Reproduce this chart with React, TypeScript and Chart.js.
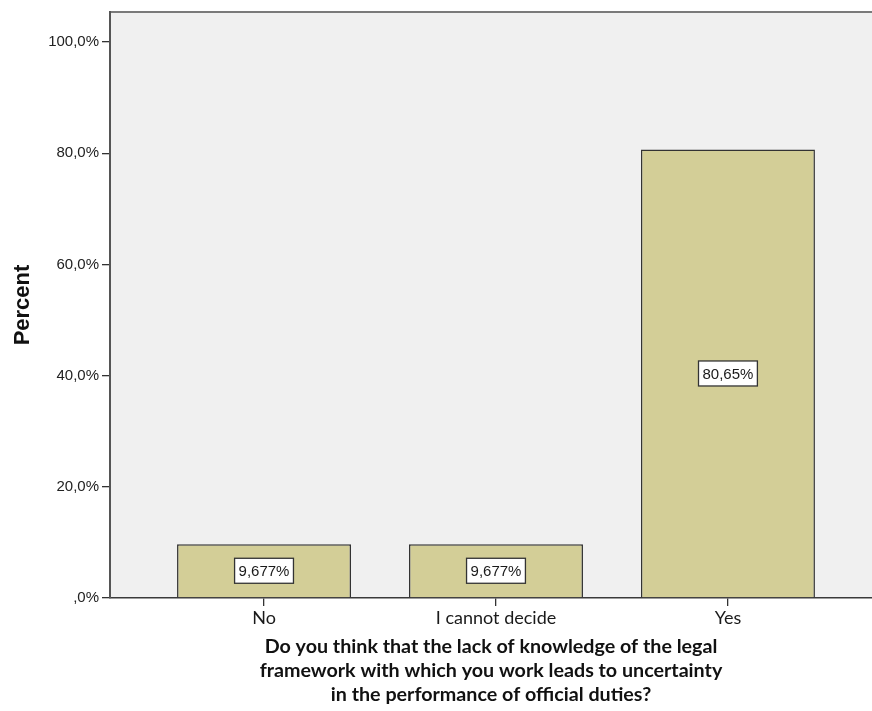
import React, { useEffect, useRef } from 'react';
import { Chart, registerables } from 'chart.js';

Chart.register(...registerables);

const categories = ['No', 'I cannot decide', 'Yes'];
const percentValues = [9.677, 9.677, 80.65];
const valueLabels = ['9,677%', '9,677%', '80,65%'];
const yTickValues = [0, 20, 40, 60, 80, 100];
const yTickLabels = [',0%', '20,0%', '40,0%', '60,0%', '80,0%', '100,0%'];
const yAxisTitle = 'Percent';
const xAxisTitleLines = [
  'Do you think that the lack of knowledge of the legal',
  'framework with which you work leads to uncertainty',
  'in the performance of official duties?',
];

const plotBackground = {
  id: 'plotBackground',
  beforeDraw(chart: any) {
    const { ctx, chartArea } = chart;
    ctx.save();
    ctx.fillStyle = '#f0f0f0';
    ctx.fillRect(chartArea.left, chartArea.top, chart.width - chartArea.left, chartArea.bottom - chartArea.top);
    ctx.strokeStyle = '#7a7a7a';
    ctx.lineWidth = 2;
    ctx.beginPath();
    ctx.moveTo(chartArea.left, chartArea.top);
    ctx.lineTo(chart.width, chartArea.top);
    ctx.stroke();
    ctx.restore();
  },
};

const valueBoxes = {
  id: 'valueBoxes',
  afterDatasetsDraw(chart: any) {
    const { ctx } = chart;
    const meta = chart.getDatasetMeta(0);
    ctx.save();
    ctx.font = '15px "Liberation Sans", Arial, sans-serif';
    ctx.textAlign = 'center';
    ctx.textBaseline = 'middle';
    meta.data.forEach((bar: any, i: number) => {
      const text = valueLabels[i];
      const cx = bar.x;
      const cy = (bar.y + bar.base) / 2;
      const w = ctx.measureText(text).width + 8;
      const h = 25;
      ctx.fillStyle = '#ffffff';
      ctx.fillRect(cx - w / 2, cy - h / 2, w, h);
      ctx.strokeStyle = '#333333';
      ctx.lineWidth = 1.3;
      ctx.strokeRect(cx - w / 2, cy - h / 2, w, h);
      ctx.fillStyle = '#1a1a1a';
      ctx.fillText(text, cx, cy + 1);
    });
    ctx.restore();
  },
};

export default function App() {
  const canvasRef = useRef<HTMLCanvasElement | null>(null);

  useEffect(() => {
    if (!canvasRef.current) return;
    const chart = new Chart(canvasRef.current, {
      type: 'bar',
      data: {
        datasets: [
          {
            data: categories.map((_, i) => ({ x: i, y: percentValues[i] })),
            backgroundColor: '#d3ce97',
            borderColor: '#333333',
            borderWidth: 1.5,
            barPercentage: 0.75,
            categoryPercentage: 1,
          },
        ],
      },
      options: {
        animation: false,
        responsive: false,
        maintainAspectRatio: false,
        layout: { padding: { top: 9, right: 0, left: 0, bottom: 0 } },
        plugins: { legend: { display: false }, tooltip: { enabled: false } },
        scales: {
          x: {
            type: 'linear',
            offset: false,
            min: -0.664,
            max: 2.621,
            afterBuildTicks: (scale: any) => {
              scale.ticks = categories.map((_, i) => ({ value: i }));
            },
            afterFit: (scale: any) => {
              scale.height = 113;
            },
            ticks: {
              autoSkip: false,
              maxRotation: 0,
              padding: 1,
              color: '#1a1a1a',
              font: { family: 'Lato, "Open Sans", sans-serif', size: 18 },
              callback: (v: any) => categories[Number(v)] ?? '',
            },
            grid: { display: true, offset: false, drawOnChartArea: false, drawTicks: true, tickLength: 8, color: '#333', lineWidth: 1.3 },
            border: { display: true, color: '#3a3a3a', width: 1.5 },
            title: {
              display: true,
              text: xAxisTitleLines,
              color: '#111',
              font: { family: 'Lato, "Open Sans", sans-serif', size: 19.7, weight: 'bold', lineHeight: 1.22 },
              padding: { top: 0, bottom: 4 },
            },
          },
          y: {
            min: 0,
            max: 105.4,
            afterBuildTicks: (scale: any) => {
              scale.ticks = yTickValues.map((v) => ({ value: v }));
            },
            afterFit: (scale: any) => {
              scale.width = 110;
            },
            ticks: {
              padding: 3,
              color: '#222',
              font: { family: '"Liberation Sans", Arial, sans-serif', size: 15 },
              callback: (v: any) => yTickLabels[yTickValues.indexOf(Number(v))] ?? '',
            },
            grid: { display: true, drawOnChartArea: false, drawTicks: true, tickLength: 8, color: '#333', lineWidth: 1.3 },
            border: { display: true, color: '#555', width: 2 },
            title: {
              display: true,
              text: yAxisTitle,
              color: '#111',
              font: { family: '"Liberation Sans", Arial, sans-serif', size: 22, weight: 'bold' },
              padding: { top: 10, bottom: 0 },
            },
          },
        },
      },
      plugins: [plotBackground, valueBoxes],
    });
    return () => chart.destroy();
  }, []);

  return (
    <div style={{ position: 'absolute', left: 0, top: 0, width: 872, height: 711, background: '#fff' }}>
      <canvas ref={canvasRef} width={872} height={711} style={{ width: 872, height: 711, display: 'block' }} />
    </div>
  );
}
